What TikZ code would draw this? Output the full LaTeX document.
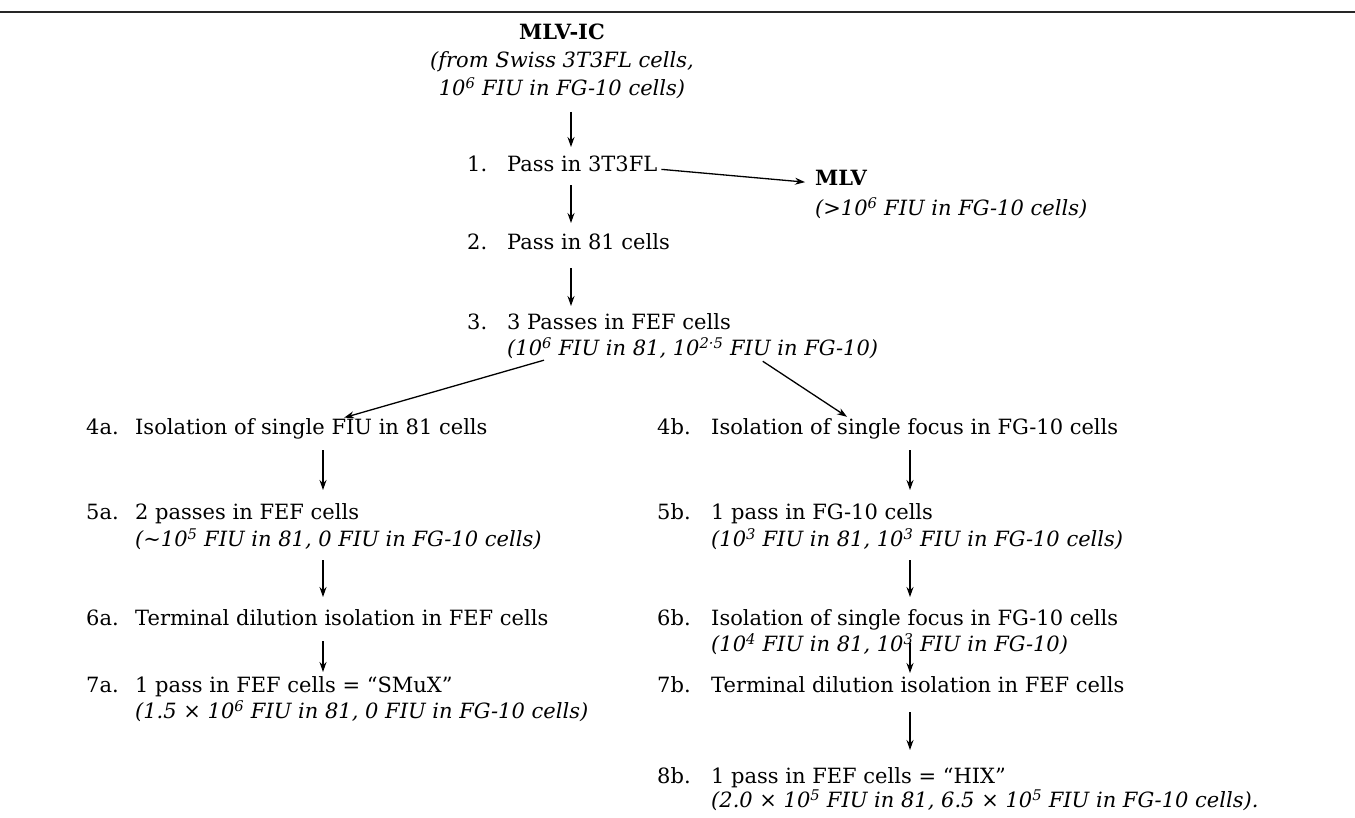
\documentclass[tikz,border=0pt]{standalone}
\usepackage{fontspec}
\setmainfont{DejaVu Serif}
\usetikzlibrary{arrows.meta,calc}
\begin{document}
\begin{tikzpicture}[x=1pt,y=-1pt,
  every node/.style={inner sep=0pt,font=\fontsize{21}{24}\selectfont},
  txt/.style={anchor=mid west},
  arr/.style={-{Stealth[length=10pt,width=7pt]},line width=1.3pt}]
\useasboundingbox (0,0) rectangle (1355,817);
\fill[white] (0,0) rectangle (1355,817);
\draw[line width=1.4pt,black!85] (0,12) -- (1355,12);
\coordinate (xt) at (571,0);
\coordinate (xa) at (323,0);
\coordinate (xb) at (910,0);
% top
\node (ic1) at (562,32) {\bfseries MLV-IC};
\node (ic2) at (562,62) {\itshape (from Swiss 3T3FL cells,};
\node (ic3) at (562,88) {\itshape 10\textsuperscript{6} FIU in FG-10 cells)};
\node[txt] (n1) at (467,169) {1.};
\node[txt] (s1) at (507,169) {Pass in 3T3FL};
\node[txt] (mlv) at (815,183) {\bfseries MLV};
\node[txt] (mlvi) at (815,213) {\itshape (>10\textsuperscript{6} FIU in FG-10 cells)};
\node[txt] (n2) at (467,247) {2.};
\node[txt] (s2) at (507,247) {Pass in 81 cells};
\node[txt] (n3) at (467,327) {3.};
\node[txt] (s3) at (507,327) {3 Passes in FEF cells};
\node[txt] (s3i) at (507,353) {\itshape (10\textsuperscript{6} FIU in 81, 10\textsuperscript{2·5} FIU in FG-10)};
% a column
\node[txt] (n4a) at (86,432) {4a.};
\node[txt] (s4a) at (135,432) {Isolation of single FIU in 81 cells};
\node[txt] (n5a) at (86,517) {5a.};
\node[txt] (s5a) at (135,517) {2 passes in FEF cells};
\node[txt] (s5ai) at (135,544) {\itshape (∼10\textsuperscript{5} FIU in 81, 0 FIU in FG-10 cells)};
\node[txt] (n6a) at (86,623) {6a.};
\node[txt] (s6a) at (135,623) {Terminal dilution isolation in FEF cells};
\node[txt] (n7a) at (86,690) {7a.};
\node[txt] (s7a) at (135,690) {1 pass in FEF cells = ``SMuX''};
\node[txt] (s7ai) at (135,716) {\itshape (1.5 × 10\textsuperscript{6} FIU in 81, 0 FIU in FG-10 cells)};
% b column
\node[txt] (n4b) at (657,432) {4b.};
\node[txt] (s4b) at (711,432) {Isolation of single focus in FG-10 cells};
\node[txt] (n5b) at (657,517) {5b.};
\node[txt] (s5b) at (711,517) {1 pass in FG-10 cells};
\node[txt] (s5bi) at (711,544) {\itshape (10\textsuperscript{3} FIU in 81, 10\textsuperscript{3} FIU in FG-10 cells)};
\node[txt] (n6b) at (657,623) {6b.};
\node[txt] (s6b) at (711,623) {Isolation of single focus in FG-10 cells};
\node[txt] (s6bi) at (711,649) {\itshape (10\textsuperscript{4} FIU in 81, 10\textsuperscript{3} FIU in FG-10)};
\node[txt] (n7b) at (657,690) {7b.};
\node[txt] (s7b) at (711,690) {Terminal dilution isolation in FEF cells};
\node[txt] (n8b) at (657,781) {8b.};
\node[txt] (s8b) at (711,781) {1 pass in FEF cells = ``HIX''};
\node[txt] (s8bi) at (711,805) {\itshape (2.0 × 10\textsuperscript{5} FIU in 81, 6.5 × 10\textsuperscript{5} FIU in FG-10 cells).};
% arrows
\draw[arr,shorten <=19pt,shorten >=22pt] (ic3.mid -| xt) -- (s1.mid west -| xt);
\draw[arr,shorten <=16pt,shorten >=24pt] (s1.mid west -| xt) -- (s2.mid west -| xt);
\draw[arr,shorten <=21pt,shorten >=21pt] (s2.mid west -| xt) -- (s3.mid west -| xt);
\draw[arr,shorten <=4pt,shorten >=10pt] (s1.mid east) -- (mlv.mid west);
\draw[arr,shorten <=4pt,shorten >=3pt] ($(s3i.south west)!0.11!(s3i.south east)$) -- ($(s4a.north west)!0.585!(s4a.north east)$);
\draw[arr,shorten <=4pt,shorten >=3pt] ($(s3i.south west)!0.68!(s3i.south east)$) -- ($(s4b.north west)!0.34!(s4b.north east)$);
\draw[arr,shorten <=18pt,shorten >=27pt] (s4a.mid west -| xa) -- (s5a.mid west -| xa);
\draw[arr,shorten <=16pt,shorten >=26pt] (s5ai.mid west -| xa) -- (s6a.mid west -| xa);
\draw[arr,shorten <=18pt,shorten >=18pt] (s6a.mid west -| xa) -- (s7a.mid west -| xa);
\draw[arr,shorten <=18pt,shorten >=27pt] (s4b.mid west -| xb) -- (s5b.mid west -| xb);
\draw[arr,shorten <=16pt,shorten >=26pt] (s5bi.mid west -| xb) -- (s6b.mid west -| xb);
\draw[arr,shorten <=20pt,shorten >=17pt] (s6b.mid west -| xb) -- (s7b.mid west -| xb);
\draw[arr,shorten <=22pt,shorten >=31pt] (s7b.mid west -| xb) -- (s8b.mid west -| xb);
\end{tikzpicture}
\end{document}
